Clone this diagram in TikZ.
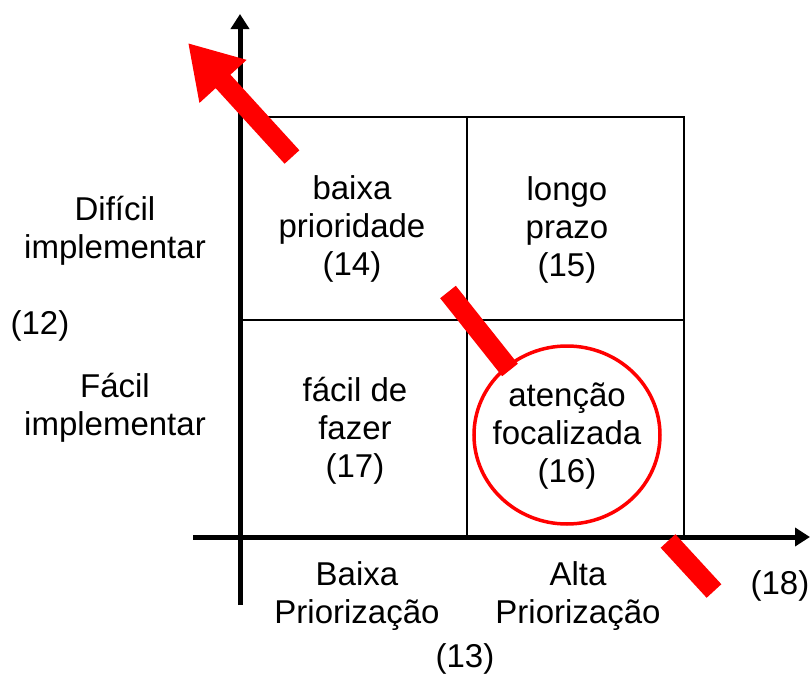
\documentclass[tikz,border=0pt]{standalone}
\usepackage{fontspec}
\setmainfont{Liberation Sans}
\usetikzlibrary{arrows.meta}

\tikzset{
  txt/.style={align=center,inner sep=0pt,font=\fontsize{16.5}{19}\selectfont},
  axis/.style={line width=2.5pt,-{Triangle[length=7.5pt,width=9pt]}},
  grid/.style={line width=0.9pt},
  hl/.style={red,line width=10pt}
}

\begin{document}
\begin{tikzpicture}[x=0.5pt,y=-0.5pt]
        \useasboundingbox (0,0) rectangle (811,675);
        % axes
        \coordinate (ybot) at (240,605);
        \coordinate (ytop) at (240,14);
        \coordinate (xleft) at (193,537);
        \coordinate (xright) at (810,537);
        \draw[axis] (ybot) -- (ytop);
        \draw[axis] (xleft) -- (xright);
        % quadrant grid
        \coordinate (tl) at (240,117);
        \coordinate (tm) at (467,117);
        \coordinate (tr) at (684,117);
        \coordinate (ml) at (240,320);
        \coordinate (mr) at (684,320);
        \coordinate (bm) at (467,537);
        \coordinate (br) at (684,537);
        \draw[grid] (tl) -- (tr) -- (br);
        \draw[grid] (tm) -- (bm);
        \draw[grid] (ml) -- (mr);
        % quadrant labels
        \draw (352,229) node[txt](q14) {baixa\\prioridade\\(14)};
        \draw (567,230) node[txt](q15) {longo\\prazo\\(15)};
        \draw (355,431) node[txt](q17) {fácil de\\fazer\\(17)};
        \draw (567,436) node[txt](q16) {atenção\\focalizada\\(16)};
        % axis labels
        \draw (115,231) node[txt](dificil) {Difícil\\implementar};
        \draw (40,326) node[txt](n12) {(12)};
        \draw (115,408) node[txt](facil) {Fácil\\implementar};
        \draw (357,596) node[txt](baixa) {Baixa\\Priorização};
        \draw (578,596) node[txt](alta) {Alta\\Priorização};
        \draw (465,659) node[txt](n13) {(13)};
        \draw (780,586) node[txt](n18) {(18)};
        % red highlight
        \draw[red,line width=1.75pt] (567,435) ellipse [x radius=93,y radius=89];
        \coordinate (a1) at (292,157);
        \coordinate (a2) at (188,43);
        \coordinate (b1) at (448,292);
        \coordinate (b2) at (510,370);
        \coordinate (c1) at (668,541);
        \coordinate (c2) at (714,591);
        \draw[hl,-{Triangle[length=26pt,width=30pt]}] (a1) -- (a2);
        \draw[hl] (b1) -- (b2);
        \draw[hl] (c1) -- (c2);
    \end{tikzpicture}
\end{document}
